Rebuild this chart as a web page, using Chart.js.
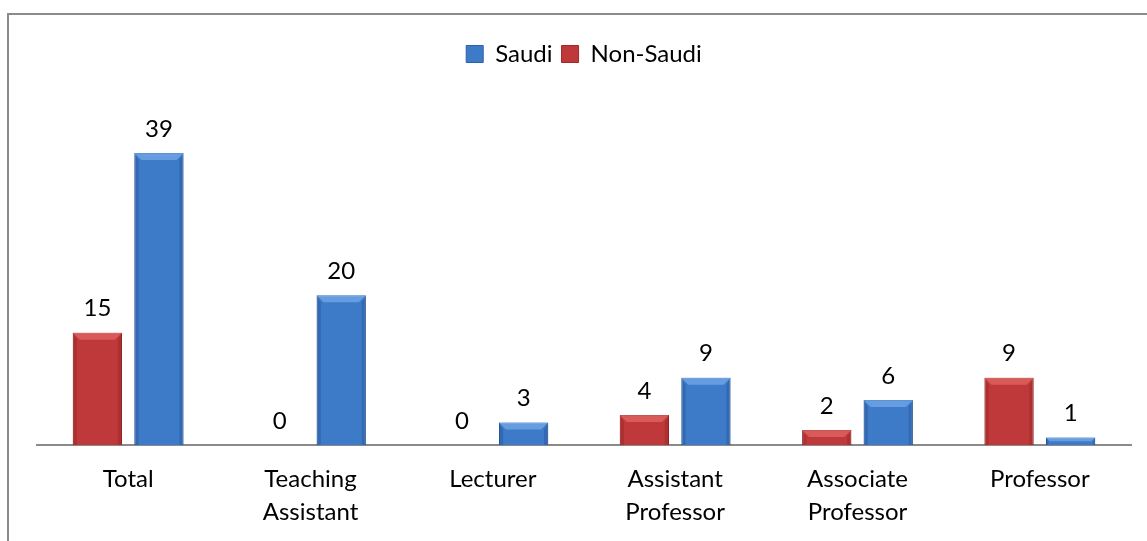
<!DOCTYPE html>
<html>
<head>
<meta charset="utf-8">
<script src="https://cdn.jsdelivr.net/npm/chart.js@4/dist/chart.umd.min.js"></script>
<style>
  html, body { margin: 0; padding: 0; background: #fff; }
  #wrap { position: relative; width: 1147px; height: 541px; overflow: hidden; }
  #frame { position: absolute; left: 7px; top: 13px; width: 1150px; height: 540px;
           border-top: 2px solid #8a8a8a; border-left: 2px solid #8a8a8a; box-sizing: border-box; }
  canvas { position: absolute; left: 0; top: 0; }
</style>
</head>
<body>
<div id="wrap">
  <div id="frame"></div>
  <canvas id="c" width="1147" height="541"></canvas>
</div>
<script>
const categories = [["Total"], ["Teaching", "Assistant"], ["Lecturer"], ["Assistant", "Professor"], ["Associate", "Professor"], ["Professor"]];
const nonSaudi = [15, 0, 0, 4, 2, 9];
const saudi = [39, 20, 3, 9, 6, 1];
const seriesNames = ["Non-Saudi", "Saudi"];

const FONT = "Lato, 'Open Sans', sans-serif";

const valueLabels = {
  id: 'valueLabels',
  afterDatasetsDraw(chart) {
    const ctx = chart.ctx;
    ctx.save();
    ctx.font = "24px " + FONT;
    ctx.fillStyle = "#000";
    ctx.textAlign = "center";
    ctx.textBaseline = "bottom";
    chart.data.datasets.forEach((ds, di) => {
      const meta = chart.getDatasetMeta(di);
      meta.data.forEach((bar, i) => {
        ctx.fillText(String(ds.data[i]), bar.x, bar.y - 12);
      });
    });
    ctx.restore();
  }
};

const bevel = {
  id: 'bevel',
  afterDatasetsDraw(chart) {
    const ctx = chart.ctx;
    ctx.save();
    chart.data.datasets.forEach((ds, di) => {
      const meta = chart.getDatasetMeta(di);
      meta.data.forEach((bar) => {
        const h = bar.base - bar.y;
        if (h <= 0) return;
        const l = bar.x - bar.width / 2, r = bar.x + bar.width / 2, t = bar.y, b = bar.base;
        const d = Math.min(7, h / 2);
        ctx.fillStyle = ds.lightColor;
        ctx.beginPath();
        ctx.moveTo(l, t); ctx.lineTo(r, t); ctx.lineTo(r - d, t + d); ctx.lineTo(l + d, t + d); ctx.closePath();
        ctx.fill();
        ctx.fillStyle = ds.sideColor;
        ctx.beginPath();
        ctx.moveTo(l, t); ctx.lineTo(l + d * 0.6, t + d); ctx.lineTo(l + d * 0.6, b); ctx.lineTo(l, b); ctx.closePath();
        ctx.fill();
        ctx.beginPath();
        ctx.moveTo(r, t); ctx.lineTo(r - d * 0.6, t + d); ctx.lineTo(r - d * 0.6, b); ctx.lineTo(r, b); ctx.closePath();
        ctx.fill();
      });
    });
    ctx.restore();
  }
};

new Chart(document.getElementById('c'), {
  type: 'bar',
  data: {
    labels: categories,
    datasets: [
      { label: seriesNames[0], data: nonSaudi, backgroundColor: '#c0393a', borderColor: '#9c2a2b', borderWidth: 1,
        lightColor: 'rgba(235,120,115,0.55)', sideColor: 'rgba(120,20,20,0.25)' },
      { label: seriesNames[1], data: saudi, backgroundColor: '#3d7bc9', borderColor: '#2d62a6', borderWidth: 1,
        lightColor: 'rgba(130,180,240,0.6)', sideColor: 'rgba(20,50,110,0.25)' }
    ]
  },
  options: {
    responsive: false,
    animation: false,
    devicePixelRatio: 1,
    layout: { padding: { top: 33, left: 37, right: 16, bottom: 0 } },
    categoryPercentage: 0.675,
    barPercentage: 0.8,
    plugins: {
      legend: {
        reverse: true,
        labels: { font: { family: FONT, size: 24 }, color: '#000', boxWidth: 17, boxHeight: 17, padding: 9 },
      },
      tooltip: { enabled: false }
    },
    scales: {
      x: {
        grid: { display: false, drawTicks: false },
        border: { display: true, color: '#8a8a8a', width: 2 },
        ticks: { font: { family: FONT, size: 24, lineHeight: 1.38 }, color: '#000', padding: 18, maxRotation: 0 },
        afterFit(scale) { scale.height = 96; }
      },
      y: {
        display: false,
        min: 0,
        max: 49.3
      }
    }
  },
  plugins: [valueLabels, bevel]
});
</script>
</body>
</html>
